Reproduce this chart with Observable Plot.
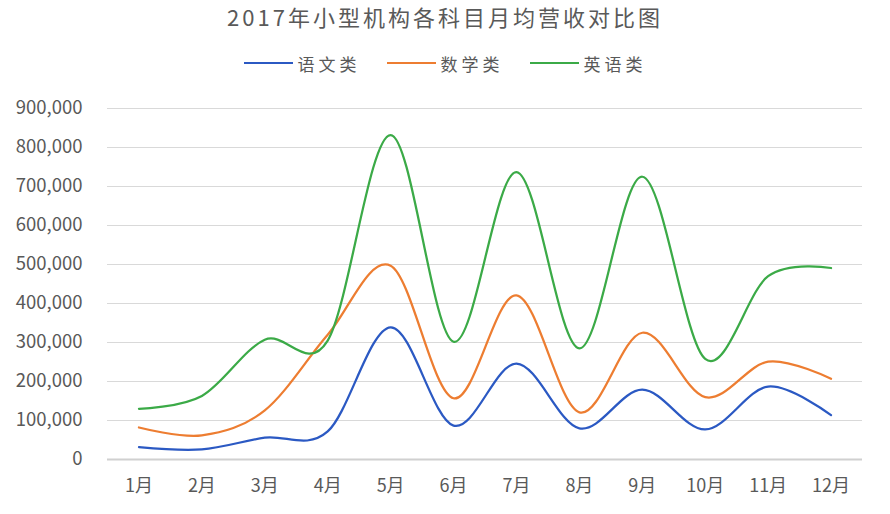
<!DOCTYPE html>
<html>
<head>
<meta charset="utf-8">
<script src="https://cdn.jsdelivr.net/npm/d3@7"></script>
<script src="https://cdn.jsdelivr.net/npm/@observablehq/plot@0.6"></script>
<style>
  html, body { margin: 0; padding: 0; background: #fff; }
  body { width: 890px; height: 514px; overflow: hidden; font-family: "Noto Sans CJK SC", "Noto Sans", sans-serif; color: #595959; }
  #title { padding-top: 2px; height: 28px; line-height: 28px; text-align: center; font-size: 22px; letter-spacing: 3px; white-space: nowrap; }
  #legend { margin-top: 21px; height: 24px; display: flex; justify-content: center; align-items: center; font-size: 17px; letter-spacing: 4px; }
  .item { display: flex; align-items: center; margin: 0 13px; }
  .swatch { width: 49px; height: 2.5px; margin-right: 5px; }
  #chart svg { display: block; }
</style>
</head>
<body>
<div id="title"></div>
<div id="legend"></div>
<div id="chart"></div>
<script>
const titleText = "2017年小型机构各科目月均营收对比图";
const months = ["1月","2月","3月","4月","5月","6月","7月","8月","9月","10月","11月","12月"];
const seriesNames = ["语文类", "数学类", "英语类"];
const seriesColors = ["#2b59c3", "#ed7d31", "#3baa47"];
const chinese = [32000, 26000, 56000, 72000, 339000, 87000, 246000, 80000, 179000, 77000, 187000, 114000];
const math    = [82000, 62000, 126000, 320000, 497000, 157000, 421000, 121000, 325000, 160000, 251000, 207000];
const english = [130000, 163000, 307000, 305000, 832000, 302000, 737000, 285000, 725000, 258000, 470000, 491000];
const yTicks = [0, 100000, 200000, 300000, 400000, 500000, 600000, 700000, 800000, 900000];

document.getElementById("title").textContent = titleText;

const legend = document.getElementById("legend");
seriesNames.forEach((name, i) => {
  const item = document.createElement("div");
  item.className = "item";
  const sw = document.createElement("div");
  sw.className = "swatch";
  sw.style.background = seriesColors[i];
  const label = document.createElement("span");
  label.textContent = name;
  item.appendChild(sw);
  item.appendChild(label);
  legend.appendChild(item);
});

const allSeries = [chinese, math, english];
const data = [];
allSeries.forEach((vals, si) => {
  vals.forEach((v, mi) => data.push({month: months[mi], value: v, series: seriesNames[si]}));
});

const chart = Plot.plot({
  width: 890,
  height: 439,
  marginTop: 33,
  marginBottom: 55,
  marginLeft: 107,
  marginRight: 28,
  style: { fontFamily: "'Noto Sans CJK SC', 'Noto Sans', sans-serif", color: "#595959", background: "#fff", overflow: "visible" },
  x: { type: "point", domain: months, padding: 0.5, round: false },
  y: { domain: [0, 900000] },
  color: { domain: seriesNames, range: seriesColors },
  marks: [
    Plot.gridY(yTicks, { stroke: "#d9d9d9", strokeOpacity: 1, strokeWidth: 1 }),
    Plot.ruleY([0], { stroke: "#d0d0d0", strokeWidth: 1.8 }),
    Plot.axisY({ ticks: yTicks, tickFormat: d3.format(","), tickSize: 0, tickPadding: 25, fontSize: 18.5, label: null, fill: "#595959", style: "letter-spacing:2.2px" }),
    Plot.axisX({ tickSize: 0, tickPadding: 20, fontSize: 18, label: null, fill: "#595959", style: "letter-spacing:1px" }),
    Plot.line(data, { x: "month", y: "value", z: "series", stroke: "series", strokeWidth: 2.25, curve: "cardinal", tension: 0 })
  ]
});
document.getElementById("chart").appendChild(chart);
</script>
</body>
</html>
